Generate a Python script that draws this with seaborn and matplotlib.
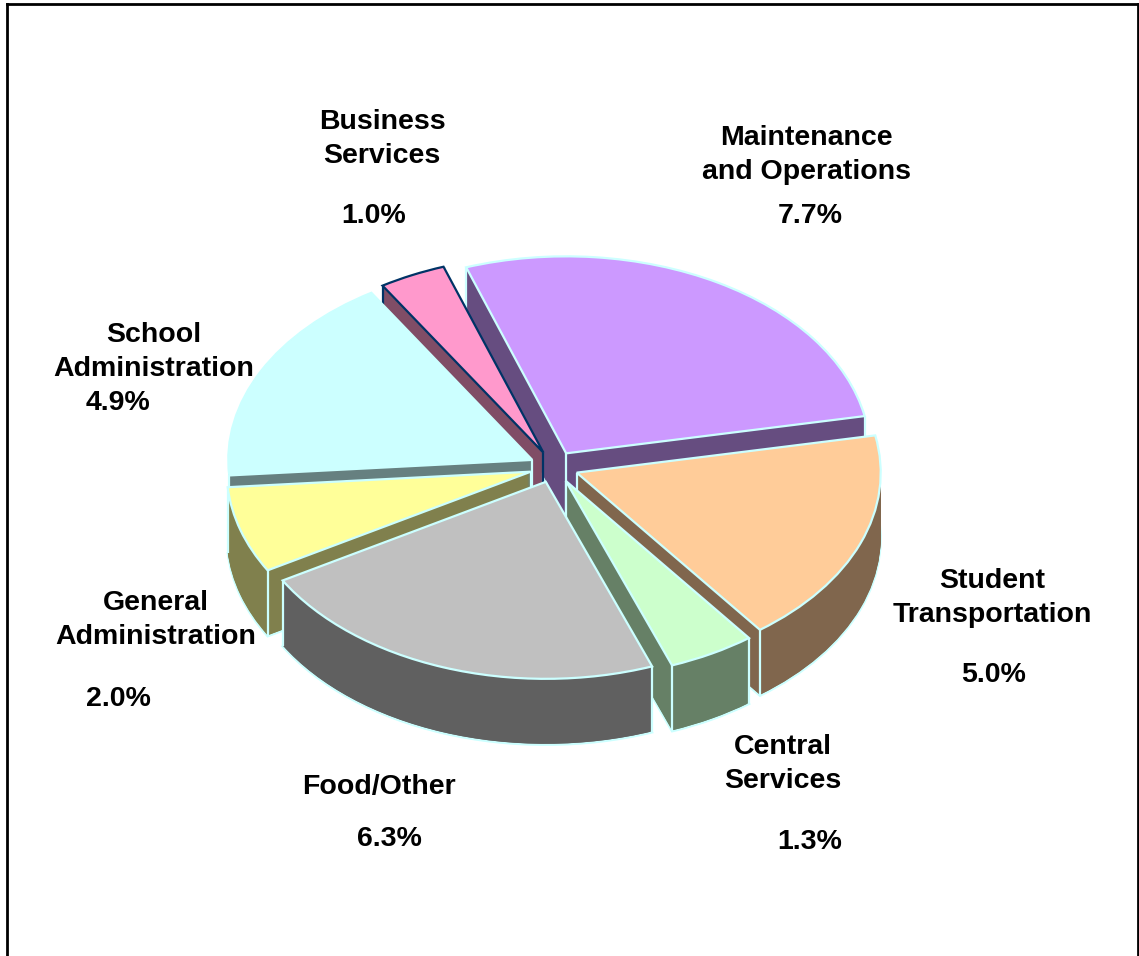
import numpy as np
import seaborn as sns
import matplotlib.pyplot as plt

# values, clockwise from Maintenance
categories = ['Maintenance\nand Operations', 'Student\nTransportation', 'Central\nServices',
              'Food/Other', 'General\nAdministration', 'School\nAdministration', 'Business\nServices']
percents = [7.7, 5.0, 1.3, 6.3, 2.0, 4.9, 1.0]
pct_labels = ['7.7%', '5.0%', '1.3%', '6.3%', '2.0%', '4.9%', '1.0%']
top_colors = ['#CC99FF', '#FFCC99', '#CCFFCC', '#C0C0C0', '#FFFF99', '#CCFFFF', '#FF99CC']
edge_colors = ['#CCFFFF', '#CCFFFF', '#CCFFFF', '#CCFFFF', '#CCFFFF', '#CCFFFF', '#003366']
draw_order = [0, 6, 5, 1, 2, 4, 3]

# label positions in pixels of the reference
name_pos = [(806, 155), (992, 598), (783, 764), (379, 787), (156, 620), (154, 352), (382, 139)]
pct_pos = [(810, 216), (994, 675), (810, 842), (389, 839), (118, 699), (118, 403), (374, 216)]

W, H = 1139, 956
CX, CY, RX, RY = 554, 467, 304, 197
DEPTH = 66 / RY
LAYERS = 66
START = 109.2
EXPLODE = 0.08

sns.set_theme(style='white')
plt.rcParams['font.family'] = ['Liberation Sans', 'DejaVu Sans']

side_colors = [tuple(0.5 * c for c in sns.color_palette([col])[0]) for col in top_colors]
explode = [EXPLODE] * len(percents)

fig = plt.figure(figsize=(W / 100, H / 100), dpi=100)

# frame, the bottom edge is cut off in the original
bg = fig.add_axes([7 / W, -0.01, (1138 - 7) / W, 1.01 - 4 / H])
bg.set_xticks([])
bg.set_yticks([])
bg.spines['bottom'].set_visible(False)
for s in ['left', 'top', 'right']:
    bg.spines[s].set_visible(True)
    bg.spines[s].set_color('black')
    bg.spines[s].set_linewidth(2)

ax = fig.add_axes([0, 0, 1, 1])
ax.patch.set_alpha(0)

rank = {s: i for i, s in enumerate(draw_order)}

# stack of darker pies for the side walls
for layer in range(LAYERS + 1):
    off = DEPTH * (1 - layer / LAYERS)
    wedges, _ = ax.pie(percents, explode=explode, colors=side_colors, startangle=START,
                       counterclock=False, center=(0, -off), radius=1)
    for i, w in enumerate(wedges):
        w.set_zorder(rank[i] * 1000 + layer)
        if layer == 0:
            w.set_edgecolor(edge_colors[i])
            w.set_linewidth(1.6)
        else:
            w.set_linewidth(0)

# top faces
wedges, _ = ax.pie(percents, explode=explode, colors=top_colors, startangle=START,
                   counterclock=False, radius=1,
                   wedgeprops={'linewidth': 1.6})
for i, w in enumerate(wedges):
    w.set_edgecolor(edge_colors[i])
    w.set_zorder(rank[i] * 1000 + LAYERS + 5)
    # vertical corners of the slice
    x0, y0 = w.center
    for px, py in [(x0, y0),
                   (x0 + np.cos(np.radians(w.theta1)), y0 + np.sin(np.radians(w.theta1))),
                   (x0 + np.cos(np.radians(w.theta2)), y0 + np.sin(np.radians(w.theta2)))]:
        ax.plot([px, px], [py, py - DEPTH], color=edge_colors[i], lw=1.6,
                zorder=rank[i] * 1000 + LAYERS + 1, solid_capstyle='butt')

ax.set_aspect('auto')
ax.set_xlim((0 - CX) / RX, (W - CX) / RX)
ax.set_ylim((CY - H) / RY, CY / RY)
ax.axis('off')

for name, p in zip(categories, name_pos):
    fig.text(p[0] / W, 1 - p[1] / H, name, ha='center', va='center', fontsize=20.5,
             fontweight='bold', color='black', linespacing=1.38)
for lab, p in zip(pct_labels, pct_pos):
    fig.text(p[0] / W, 1 - p[1] / H, lab, ha='center', va='center', fontsize=20.5,
             fontweight='bold', color='black')

fig.savefig('out.png', dpi=100)
